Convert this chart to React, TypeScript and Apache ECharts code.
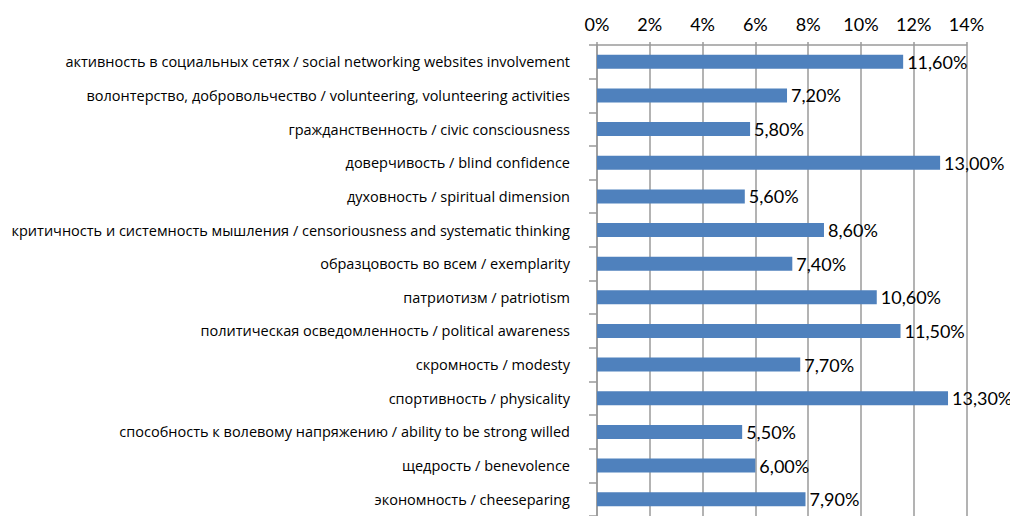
import React, { useEffect, useRef } from "react";
import * as echarts from "echarts";

const categories = [
  "активность в социальных сетях / social networking websites involvement",
  "волонтерство, добровольчество / volunteering, volunteering activities",
  "гражданственность / civic consciousness",
  "доверчивость / blind confidence",
  "духовность / spiritual dimension",
  "критичность и системность мышления / censoriousness and systematic thinking",
  "образцовость во всем / exemplarity",
  "патриотизм / patriotism",
  "политическая осведомленность / political awareness",
  "скромность / modesty",
  "спортивность / physicality",
  "способность к волевому напряжению / ability to be strong willed",
  "щедрость / benevolence",
  "экономность / cheeseparing",
];

const values = [11.6, 7.2, 5.8, 13.0, 5.6, 8.6, 7.4, 10.6, 11.5, 7.7, 13.3, 5.5, 6.0, 7.9];

const xTicks = { min: 0, max: 14, interval: 2 };

const FONT = "Lato, 'Open Sans', sans-serif";
const CAT_FONT = "'Open Sans', Lato, sans-serif";

export default function App() {
  const ref = useRef<HTMLDivElement>(null);
  useEffect(() => {
    if (!ref.current) return;
    const chart = echarts.init(ref.current, undefined, { renderer: "svg" });
    chart.setOption({
      animation: false,
      backgroundColor: "#ffffff",
      grid: { left: 597, top: 45, width: 369.5, height: 475, containLabel: false },
      xAxis: {
        type: "value",
        position: "top",
        min: xTicks.min,
        max: xTicks.max,
        interval: xTicks.interval,
        axisLine: { show: true, lineStyle: { color: "#9a9a9a", width: 1.5 } },
        axisTick: { show: true, length: 3, lineStyle: { color: "#9a9a9a", width: 1.5 } },
        splitLine: { show: true, lineStyle: { color: "#9a9a9a", width: 1.5 } },
        axisLabel: {
          formatter: (v: number) => `${v}%`,
          color: "#000",
          fontSize: 18,
          fontFamily: FONT,
          margin: 12,
        },
      },
      yAxis: {
        type: "category",
        data: categories,
        inverse: true,
        axisLine: { show: true, lineStyle: { color: "#9a9a9a", width: 1.5 } },
        axisTick: { show: true, length: 8, lineStyle: { color: "#9a9a9a", width: 1.5 } },
        splitLine: { show: false },
        axisLabel: {
          color: "#000",
          fontSize: 14.5,
          fontFamily: CAT_FONT,
          margin: 27,
        },
      },
      series: [
        {
          type: "bar",
          data: values,
          barWidth: 14,
          itemStyle: { color: "#4F81BD" },
          label: {
            show: true,
            position: "right",
            distance: 4,
            color: "#000",
            fontSize: 18,
            fontFamily: FONT,
            formatter: (p: any) => `${p.value.toFixed(2).replace(".", ",")}%`,
          },
        },
      ],
    });
    return () => chart.dispose();
  }, []);
  return (
    <div
      ref={ref}
      style={{ position: "fixed", left: 0, top: 0, width: 1010, height: 516 }}
    />
  );
}
